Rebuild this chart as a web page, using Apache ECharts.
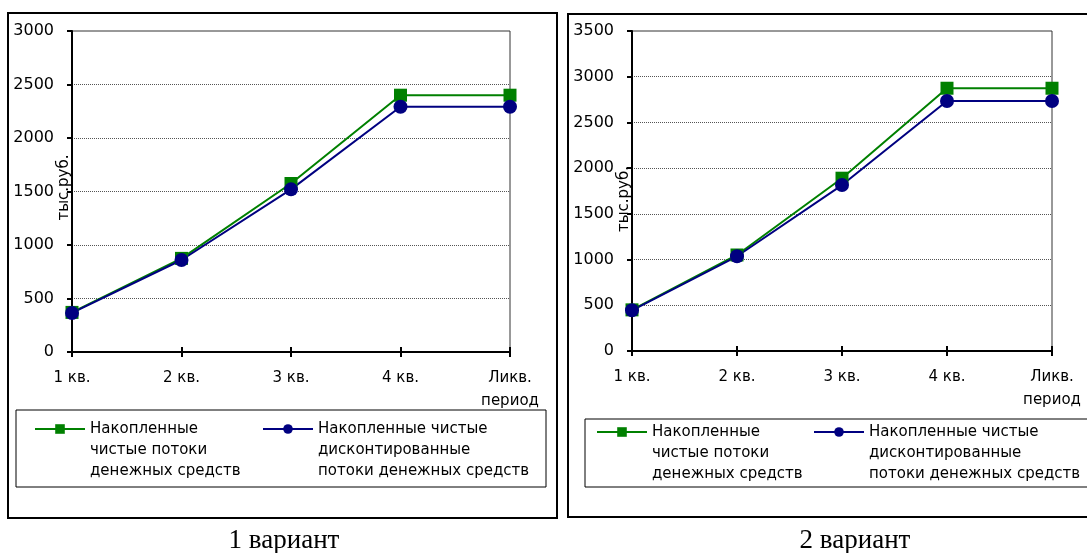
<!DOCTYPE html>
<html><head><meta charset="utf-8">
<script src="https://cdn.jsdelivr.net/npm/echarts@6/dist/echarts.min.js"></script>
<style>html,body{margin:0;padding:0;background:#fff}#c{width:1087px;height:553px}</style>
</head><body><div id="c"></div>
<script>
// ---- data ----
const categories = ['1 кв.', '2 кв.', '3 кв.', '4 кв.', 'Ликв.\nпериод'];
const seriesNames = ['Накопленные чистые потоки денежных средств',
                     'Накопленные чистые дисконтированные потоки денежных средств'];
const legendLines1 = ['Накопленные', 'чистые потоки', 'денежных средств'];
const legendLines2 = ['Накопленные чистые', 'дисконтированные', 'потоки денежных средств'];
const yAxisName = 'тыс.руб.';
const captions = ['1 вариант', '2 вариант'];
// variant 1
const v1Cumulative = [370, 875, 1575, 2400, 2400];
const v1Discounted = [365, 860, 1520, 2292, 2292];
const v1YMax = 3000;
// variant 2
const v2Cumulative = [450, 1050, 1890, 2874, 2874];
const v2Discounted = [445, 1036, 1815, 2735, 2735];
const v2YMax = 3500;
const yStep = 500;

// ---- chart ----
const FONT = 'DejaVu Sans';
const GREEN = '#008000', BLUE = '#000080';
const chart = echarts.init(document.getElementById('c'), null, {renderer: 'canvas'});

const grids = [
  {left: 72, top: 31, width: 438, height: 321, containLabel: false, outerBoundsMode: 'none',
   show: true, borderColor: '#333', borderWidth: 1, backgroundColor: 'transparent'},
  {left: 632, top: 31, width: 420, height: 320, containLabel: false, outerBoundsMode: 'none',
   show: true, borderColor: '#333', borderWidth: 1, backgroundColor: 'transparent'}
];

function mainX(gi) {
  return {
    type: 'category', gridIndex: gi, data: categories, boundaryGap: false,
    axisLine: {lineStyle: {color: '#000', width: 2}},
    axisTick: {show: true, length: 5, lineStyle: {color: '#000', width: 2}, alignWithLabel: true},
    axisLabel: {color: '#000', fontFamily: FONT, fontSize: 15, margin: 15, lineHeight: 23, interval: 0},
    splitLine: {show: false}
  };
}
function innerX(gi) {
  return {
    type: 'category', gridIndex: gi, data: categories, boundaryGap: false, position: 'bottom',
    axisLine: {show: false},
    axisTick: {show: true, inside: true, length: 5, lineStyle: {color: '#000', width: 2}},
    axisLabel: {show: false}, splitLine: {show: false}
  };
}
function yAx(gi, max, pad) {
  return {
    type: 'value', gridIndex: gi, min: 0, max: max, interval: yStep,
    name: yAxisName, nameLocation: 'middle', nameGap: 0, nameRotate: 90, nameMoveOverlap: false,
    nameTextStyle: {color: '#000', fontFamily: FONT, fontSize: 15, padding: pad},
    axisLine: {show: true, lineStyle: {color: '#000', width: 2}},
    axisTick: {show: true, length: 5, lineStyle: {color: '#000', width: 2}},
    axisLabel: {color: '#000', fontFamily: FONT, fontSize: 16, margin: 18, formatter: v => String(v)},
    splitLine: {show: true, showMaxLine: false, lineStyle: {color: '#555', width: 1, type: [1, 1]}}
  };
}
function lineSeries(name, data, gi, color, symbol, size) {
  return {
    type: 'line', name: name, data: data, xAxisIndex: gi * 2, yAxisIndex: gi,
    symbol: symbol, symbolSize: size, showAllSymbol: true,
    lineStyle: {color: color, width: 2}, itemStyle: {color: color},
    emphasis: {disabled: true}, animation: false
  };
}
function legendItem(name, lines, left, iconCenterY) {
  const lh = 21;
  return {
    data: [name], left: left, top: iconCenterY - 2.5 * lh, padding: 0,
    orient: 'horizontal', itemWidth: 50, itemHeight: 12, itemGap: 0,
    selectedMode: false,
    formatter: () => '\n\n' + lines.join('\n'),
    textStyle: {color: '#000', fontFamily: FONT, fontSize: 15, lineHeight: lh}
  };
}
function box(x, y, w, h, lw) {
  return {type: 'rect', z: 0, silent: true, shape: {x: x, y: y, width: w, height: h},
          style: {fill: null, stroke: '#000', lineWidth: lw}};
}
function caption(text, cx) {
  return {type: 'text', z: 0, silent: true, x: cx, y: 541,
          style: {text: text, fill: '#000', font: '27px "Liberation Serif"', textAlign: 'center', textVerticalAlign: 'middle'}};
}

chart.setOption({
  animation: false,
  backgroundColor: '#fff',
  grid: grids,
  xAxis: [mainX(0), innerX(0), mainX(1), innerX(1)],
  yAxis: [yAx(0, v1YMax, [0, 0, 0, 8]), yAx(1, v2YMax, [0, 16, 0, 0])],
  legend: [
    legendItem(seriesNames[0], legendLines1, 34, 429),
    legendItem(seriesNames[1], legendLines2, 262, 429),
    legendItem(seriesNames[0], legendLines1, 596, 432),
    legendItem(seriesNames[1], legendLines2, 813, 432)
  ],
  series: [
    lineSeries(seriesNames[0], v1Cumulative, 0, GREEN, 'rect', 13),
    lineSeries(seriesNames[1], v1Discounted, 0, BLUE, 'circle', 14),
    lineSeries(seriesNames[0], v2Cumulative, 1, GREEN, 'rect', 13),
    lineSeries(seriesNames[1], v2Discounted, 1, BLUE, 'circle', 14)
  ],
  graphic: [
    box(8, 13, 549, 505, 2),
    box(568, 14, 540, 503, 2),
    box(16, 410, 530, 77, 1),
    box(585, 419, 520, 68, 1),
    caption(captions[0], 284),
    caption(captions[1], 855)
  ]
});
</script>
</body></html>
